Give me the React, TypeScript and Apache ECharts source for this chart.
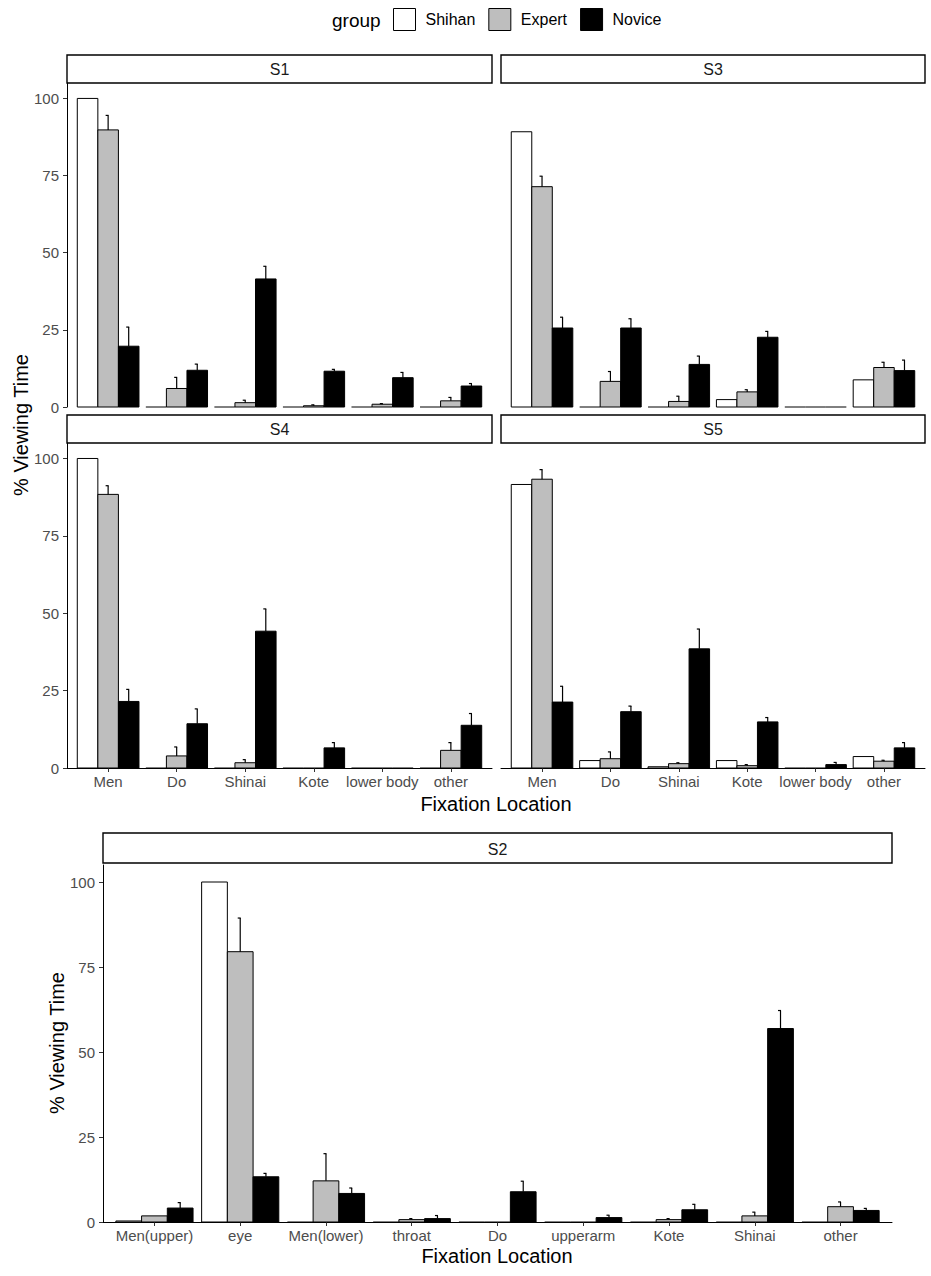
import React, { useEffect, useRef } from "react";
import * as echarts from "echarts";

const GROUPS = ["Shihan", "Expert", "Novice"];
const GROUP_COLORS = ["#FFFFFF", "#BEBEBE", "#000000"];

const CATS_MAIN = ["Men", "Do", "Shinai", "Kote", "lower body", "other"];
const CATS_S2 = ["Men(upper)", "eye", "Men(lower)", "throat", "Do", "upperarm", "Kote", "Shinai", "other"];
const Y_TICKS = [0, 25, 50, 75, 100];

// S1
const S1_SHIHAN = [100, 0, 0, 0, 0, 0];
const S1_EXPERT = [89.8, 6.0, 1.4, 0.4, 0.9, 2.0];
const S1_EXPERT_SE = [4.7, 3.6, 0.8, 0.3, 0.2, 1.1];
const S1_NOVICE = [19.7, 11.9, 41.5, 11.6, 9.5, 6.8];
const S1_NOVICE_SE = [6.2, 2.0, 4.1, 0.6, 1.7, 0.8];

// S3
const S3_SHIHAN = [89.2, 0, 0, 2.4, 0, 8.8];
const S3_EXPERT = [71.4, 8.3, 1.8, 4.9, 0, 12.8];
const S3_EXPERT_SE = [3.4, 3.2, 1.7, 0.7, 0, 1.7];
const S3_NOVICE = [25.6, 25.6, 13.8, 22.6, 0, 11.8];
const S3_NOVICE_SE = [3.5, 3.0, 2.7, 1.9, 0, 3.4];

// S4
const S4_SHIHAN = [100, 0, 0, 0, 0, 0];
const S4_EXPERT = [88.4, 3.9, 1.7, 0, 0, 5.7];
const S4_EXPERT_SE = [2.8, 2.9, 1.0, 0, 0, 2.5];
const S4_NOVICE = [21.5, 14.3, 44.2, 6.5, 0, 13.8];
const S4_NOVICE_SE = [3.9, 4.8, 7.2, 1.7, 0, 3.8];

// S5
const S5_SHIHAN = [91.6, 2.4, 0.4, 2.4, 0, 3.7];
const S5_EXPERT = [93.3, 3.0, 1.4, 0.75, 0, 2.2];
const S5_EXPERT_SE = [3.1, 2.2, 0.3, 0.35, 0, 0.3];
const S5_NOVICE = [21.3, 18.2, 38.5, 14.9, 1.1, 6.5];
const S5_NOVICE_SE = [5.1, 1.8, 6.4, 1.4, 0.7, 1.7];

// S2
const S2_SHIHAN = [0.3, 100, 0, 0, 0, 0, 0, 0, 0];
const S2_EXPERT = [1.8, 79.5, 12.1, 0.7, 0, 0, 0.7, 1.8, 4.5];
const S2_EXPERT_SE = [0, 9.9, 8.0, 0.3, 0, 0, 0.3, 1.1, 1.4];
const S2_NOVICE = [4.1, 13.3, 8.4, 1.0, 8.9, 1.3, 3.6, 56.9, 3.4];
const S2_NOVICE_SE = [1.6, 1.0, 1.6, 0.9, 3.1, 0.7, 1.6, 5.3, 0.6];

const FONT = "'Liberation Sans', Arial, Helvetica, sans-serif";
const LABEL_COLOR = "#4D4D4D";

const PANELS = [
  { name: "S1", left: 67, top: 83, width: 425, height: 324, stripTop: 55, cats: CATS_MAIN, showY: true, showX: false,
    vals: [S1_SHIHAN, S1_EXPERT, S1_NOVICE], se: [null, S1_EXPERT_SE, S1_NOVICE_SE] },
  { name: "S3", left: 501, top: 83, width: 424, height: 324, stripTop: 55, cats: CATS_MAIN, showY: false, showX: false,
    vals: [S3_SHIHAN, S3_EXPERT, S3_NOVICE], se: [null, S3_EXPERT_SE, S3_NOVICE_SE] },
  { name: "S4", left: 67, top: 443, width: 425, height: 325, stripTop: 415, cats: CATS_MAIN, showY: true, showX: true,
    vals: [S4_SHIHAN, S4_EXPERT, S4_NOVICE], se: [null, S4_EXPERT_SE, S4_NOVICE_SE] },
  { name: "S5", left: 501, top: 443, width: 424, height: 325, stripTop: 415, cats: CATS_MAIN, showY: false, showX: true,
    vals: [S5_SHIHAN, S5_EXPERT, S5_NOVICE], se: [null, S5_EXPERT_SE, S5_NOVICE_SE] },
  { name: "S2", left: 103, top: 865, width: 789, height: 357, stripTop: 833, cats: CATS_S2, showY: true, showX: true,
    vals: [S2_SHIHAN, S2_EXPERT, S2_NOVICE], se: [null, S2_EXPERT_SE, S2_NOVICE_SE] },
];

const DODGE = 0.9 / 3;

function makeBarRender(g: number) {
  return (params: any, api: any) => {
    const cat = api.value(0);
    const v = api.value(1);
    const xc = cat + (g - 1) * DODGE;
    const p0 = api.coord([xc - DODGE / 2, v]);
    const p1 = api.coord([xc + DODGE / 2, 0]);
    const h = p1[1] - p0[1];
    if (h < 0.6) {
      return {
        type: "line",
        shape: { x1: p0[0], y1: p1[1], x2: p1[0], y2: p1[1] },
        style: { stroke: "#000", lineWidth: 1 },
      };
    }
    return {
      type: "rect",
      shape: { x: p0[0], y: p0[1], width: p1[0] - p0[0], height: h },
      style: { fill: GROUP_COLORS[g], stroke: "#000", lineWidth: 1 },
    };
  };
}

function errRender(params: any, api: any) {
  const cat = api.value(0);
  const m = api.value(1);
  const se = api.value(2);
  const g = api.value(3);
  const xc = cat + (g - 1) * DODGE;
  const pb = api.coord([xc, m]);
  const pt = api.coord([xc, m + se]);
  return {
    type: "group",
    children: [
      { type: "line", shape: { x1: pb[0], y1: pb[1], x2: pt[0], y2: pt[1] }, style: { stroke: "#000", lineWidth: 1.2 } },
      { type: "line", shape: { x1: pt[0] - 2.5, y1: pt[1], x2: pt[0] + 0.5, y2: pt[1] }, style: { stroke: "#000", lineWidth: 1.2 } },
    ],
  };
}

function buildOption() {
  const grid: any[] = [];
  const xAxis: any[] = [];
  const yAxis: any[] = [];
  const series: any[] = [];
  const graphic: any[] = [];

  PANELS.forEach((p, i) => {
    grid.push({ left: p.left, top: p.top, width: p.width, height: p.height, containLabel: false });
    const idx = p.cats.map((_, k) => k);
    xAxis.push({
      gridIndex: i,
      type: "value",
      min: -0.6,
      max: p.cats.length - 0.4,
      show: p.showX,
      axisLine: { show: p.showX, onZero: false, lineStyle: { color: "#000", width: 1 } },
      axisTick: { show: p.showX, length: 4, customValues: idx, lineStyle: { color: "#333" } },
      axisLabel: {
        show: p.showX,
        customValues: idx,
        formatter: (v: number) => p.cats[Math.round(v)] ?? "",
        color: LABEL_COLOR,
        fontSize: 15,
        fontFamily: FONT,
        margin: 6,
      },
      splitLine: { show: false },
    });
    yAxis.push({
      gridIndex: i,
      type: "value",
      min: 0,
      max: 105,
      show: p.showY,
      axisLine: { show: p.showY, onZero: false, lineStyle: { color: "#000", width: 1 } },
      axisTick: { show: p.showY, length: 4, customValues: Y_TICKS, lineStyle: { color: "#333" } },
      axisLabel: {
        show: p.showY,
        customValues: Y_TICKS,
        color: LABEL_COLOR,
        fontSize: 15,
        fontFamily: FONT,
        margin: 8,
      },
      splitLine: { show: false },
    });

    GROUPS.forEach((gName, g) => {
      series.push({
        type: "custom",
        name: gName,
        xAxisIndex: i,
        yAxisIndex: i,
        renderItem: makeBarRender(g),
        encode: { x: 0, y: 1 },
        data: p.vals[g].map((v, k) => [k, v]),
        z: 2,
      });
    });
    const errData: number[][] = [];
    [1, 2].forEach((g) => {
      const se = p.se[g] as number[];
      se.forEach((s, k) => {
        if (s > 0) errData.push([k, p.vals[g][k], s, g]);
      });
    });
    series.push({
      type: "custom",
      name: "err_" + p.name,
      xAxisIndex: i,
      yAxisIndex: i,
      renderItem: errRender,
      encode: { x: 0, y: 1 },
      data: errData,
      z: 3,
    });

    // strip
    graphic.push({
      type: "rect",
      shape: { x: p.left, y: p.stripTop, width: p.width, height: p.top - p.stripTop - (p.name === "S2" ? 2 : 0) },
      style: { fill: "#FFFFFF", stroke: "#000", lineWidth: 1.4 },
      z: 10,
    });
    graphic.push({
      type: "text",
      x: p.left + p.width / 2,
      y: p.stripTop + (p.top - p.stripTop) / 2,
      style: {
        text: p.name,
        fill: "#1A1A1A",
        fontSize: 16,
        fontFamily: FONT,
        align: "center",
        verticalAlign: "middle",
        textAlign: "center",
        textVerticalAlign: "middle",
      },
      z: 11,
    });
  });

  const titleStyle = {
    fill: "#000",
    fontSize: 20,
    fontFamily: FONT,
    align: "center",
    verticalAlign: "middle",
    textAlign: "center",
    textVerticalAlign: "middle",
  };
  graphic.push({ type: "text", x: 21, y: 425, rotation: Math.PI / 2, style: { ...titleStyle, text: "% Viewing Time" } });
  graphic.push({ type: "text", x: 57, y: 1043, rotation: Math.PI / 2, style: { ...titleStyle, text: "% Viewing Time" } });
  graphic.push({ type: "text", x: 496, y: 804, style: { ...titleStyle, text: "Fixation Location" } });
  graphic.push({ type: "text", x: 497, y: 1256, style: { ...titleStyle, text: "Fixation Location" } });
  graphic.push({
    type: "text",
    x: 332,
    y: 20,
    style: { ...titleStyle, text: "group", fontSize: 19, align: "left", textAlign: "left" },
  });

  return {
    animation: false,
    backgroundColor: "#FFFFFF",
    textStyle: { fontFamily: FONT },
    legend: {
      left: 393,
      top: 8,
      padding: 0,
      itemWidth: 22,
      itemHeight: 22,
      itemGap: 13,
      icon: "rect",
      selectedMode: false,
      textStyle: { fontSize: 16, color: "#000", fontFamily: FONT, padding: [0, 0, 0, 5] },
      data: GROUPS.map((g, k) => ({
        name: g,
        icon: "rect",
        itemStyle: { color: GROUP_COLORS[k], borderColor: "#000", borderWidth: 1 },
      })),
    },
    grid,
    xAxis,
    yAxis,
    series,
    graphic,
  };
}

export default function App() {
  const ref = useRef<HTMLDivElement>(null);
  useEffect(() => {
    if (!ref.current) return;
    const chart = echarts.init(ref.current, undefined, { renderer: "svg" });
    chart.setOption(buildOption() as any);
    return () => chart.dispose();
  }, []);
  return (
    <div
      ref={ref}
      style={{ position: "absolute", left: 0, top: 0, width: 931, height: 1276, background: "#fff" }}
    />
  );
}
